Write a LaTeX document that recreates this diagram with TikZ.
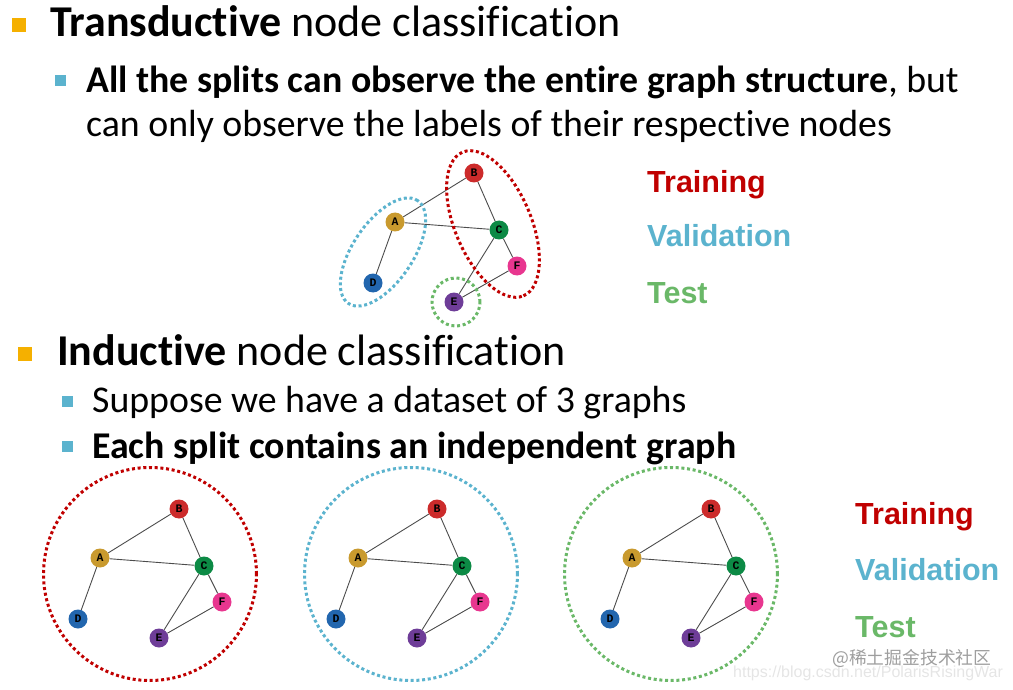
\documentclass[tikz,border=0pt]{standalone}
\usepackage{fontspec}
\setmainfont{Carlito}[Ligatures=NoCommon]
\newfontfamily\legendfont{Liberation Sans}
\newfontfamily\labelfont{Liberation Mono}
\newfontfamily\cjkfont{Noto Sans CJK SC}
\definecolor{trainred}{HTML}{C00000}
\definecolor{validblue}{HTML}{5BB3CE}
\definecolor{testgreen}{HTML}{6AB868}
\definecolor{bulletorange}{HTML}{F5B000}
\definecolor{nodeA}{HTML}{C99A2E}
\definecolor{nodeB}{HTML}{CC2B2B}
\definecolor{nodeC}{HTML}{0C8A45}
\definecolor{nodeD}{HTML}{2266AE}
\definecolor{nodeE}{HTML}{6E3D98}
\definecolor{nodeF}{HTML}{E8368F}
\tikzset{
  vertex/.style={circle, minimum size=19pt, inner sep=0pt, font=\labelfont\bfseries\fontsize{11.5}{11.5}\selectfont},
  link/.style={draw=black!70, line width=0.9pt},
  splitline/.style={line width=3pt, dash pattern=on 3pt off 2.7pt},
  heading/.style={anchor=base west, inner sep=0pt, font=\fontsize{44}{50}\selectfont},
  subheading/.style={anchor=base west, inner sep=0pt, font=\fontsize{37.8}{44}\selectfont},
  legend/.style={anchor=base west, inner sep=0pt, font=\legendfont\bfseries\fontsize{30.5}{36}\selectfont},
  mainbullet/.style={fill=bulletorange, minimum size=14pt, inner sep=0pt},
  subbullet/.style={fill=validblue, minimum size=11pt, inner sep=0pt},
}

\begin{document}
\begin{tikzpicture}[x=1pt, y=-1pt]
\useasboundingbox (0,0) rectangle (1013,690);

% watermark
\node[anchor=base west, inner sep=0pt, text=black!10, font=\legendfont\fontsize{16}{16}\selectfont] (url) at (733,677) {https://blog.csdn.net/PolarisRisingWar};
\node[anchor=west, inner sep=0pt, text=black!38, font=\cjkfont\fontsize{17.8}{18}\selectfont] (mark) at (832,658) {@稀土掘金技术社区};

\node[mainbullet] (bul-1) at (19,25) {};
\node[heading] (trans) at (50,37) {\textbf{Transductive} node classification};
\node[subbullet] (bul-2) at (60.5,80.5) {};
\node[subheading] (all) at (86,93) {\textbf{All the splits can observe the entire graph structure}, but};
\node[subheading] (can) at (86,137) {can only observe the labels of their respective nodes};

\node[mainbullet] (bul-3) at (25,353.5) {};
\node[heading] (induct) at (57,365) {\textbf{Inductive} node classification};
\node[subbullet] (bul-4) at (67,401) {};
\node[subheading] (suppose) at (92,412) {Suppose we have a dataset of 3 graphs};
\node[subbullet] (bul-5) at (67,446) {};
\node[subheading] (each) at (92,458) {\textbf{Each split contains an independent graph}};

\node[legend, text=trainred] (train-1) at (647,193) {Training};
\node[legend, text=validblue] (valid-1) at (647,247) {Validation};
\node[legend, text=testgreen] (test-1) at (647,303) {Test};
\node[legend, text=trainred] (train-2) at (855,524) {Training};
\node[legend, text=validblue] (valid-2) at (855,580) {Validation};
\node[legend, text=testgreen] (test-2) at (855,637) {Test};

\foreach \g/\gx/\gy in {t/395/222, i1/100/558, i2/358/558, i3/632/558} {
\begin{scope}[shift={(\gx,\gy)}]
\node[vertex, fill=nodeA] (A-\g) at (0,0) {A};
\node[vertex, fill=nodeB] (B-\g) at (79,-49) {B};
\node[vertex, fill=nodeC] (C-\g) at (104,8) {C};
\node[vertex, fill=nodeF] (F-\g) at (122,44) {F};
\node[vertex, fill=nodeD] (D-\g) at (-22,61) {D};
\node[vertex, fill=nodeE] (E-\g) at (59,80) {E};
\path[link] (A-\g) edge (B-\g) edge (C-\g) edge (D-\g);
\path[link] (B-\g) edge (C-\g);
\path[link] (C-\g) edge (E-\g) edge (F-\g);
\path[link] (E-\g) edge (F-\g);
\end{scope}
}

% transductive splits
\draw[splitline, trainred, rotate around={-67:(493,224)}] (493,224) ellipse [x radius=78pt, y radius=38pt];
\draw[splitline, validblue, rotate around={56:(383,252)}] (383,252) ellipse [x radius=62pt, y radius=30pt];
\draw[splitline, testgreen] (456,302) circle [radius=24pt];

% inductive splits
\draw[splitline, trainred] (150,574) circle [radius=106.5pt];
\draw[splitline, validblue] (411,574) circle [radius=106.5pt];
\draw[splitline, testgreen] (671,574) circle [radius=106.5pt];
\end{tikzpicture}
\end{document}
